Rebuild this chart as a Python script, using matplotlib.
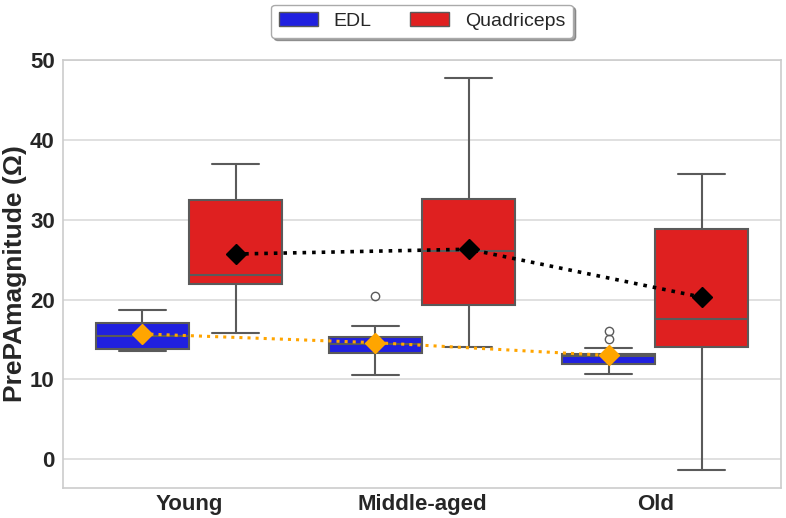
import matplotlib
matplotlib.use("Agg")
import matplotlib.pyplot as plt
import seaborn as sns
from matplotlib.patches import Patch

# ─── Data ────────────────────────────────────────────────────────────────────
groups = ["Young", "Middle-aged", "Old"]

edl_whislo = [13.6, 10.5, 10.7]
edl_q1 = [13.85, 13.3, 11.95]
edl_med = [15.4, 14.4, 12.9]
edl_q3 = [17.05, 15.3, 13.2]
edl_whishi = [18.7, 16.7, 13.9]
edl_fliers = [[], [20.4], [15.0, 16.1]]
edl_mean = [15.7, 14.6, 13.0]

quad_whislo = [15.8, 14.0, -1.35]
quad_q1 = [21.9, 19.3, 14.0]
quad_med = [23.1, 26.1, 17.55]
quad_q3 = [32.5, 32.6, 28.8]
quad_whishi = [37.0, 47.8, 35.7]
quad_fliers = [[], [], []]
quad_mean = [25.7, 26.3, 20.3]

EDL_COLOR = "#2020df"
QUAD_COLOR = "#df2020"
EDGE = "#5a5a5a"

sns.set_style("whitegrid")
plt.rcParams["font.family"] = ["Liberation Sans", "DejaVu Sans"]


def make_stats(lo, q1, med, q3, hi, fl):
    return [dict(whislo=a, q1=b, med=c, q3=d, whishi=e, fliers=f)
            for a, b, c, d, e, f in zip(lo, q1, med, q3, hi, fl)]


fig = plt.figure(figsize=(7.86, 5.18), dpi=100)
ax = fig.add_axes([0.0802, 0.0579, 0.9135, 0.8263])

x = list(range(len(groups)))
x_edl = [i - 0.2 for i in x]
x_quad = [i + 0.2 for i in x]

for stats, pos, color in [
    (make_stats(edl_whislo, edl_q1, edl_med, edl_q3, edl_whishi, edl_fliers), x_edl, EDL_COLOR),
    (make_stats(quad_whislo, quad_q1, quad_med, quad_q3, quad_whishi, quad_fliers), x_quad, QUAD_COLOR),
]:
    ax.bxp(stats, positions=pos, widths=0.4, capwidths=0.2, patch_artist=True,
           showfliers=True, manage_ticks=False,
           boxprops=dict(facecolor=color, edgecolor=EDGE, linewidth=1.5),
           medianprops=dict(color=EDGE, linewidth=1.5),
           whiskerprops=dict(color=EDGE, linewidth=1.5),
           capprops=dict(color=EDGE, linewidth=1.5),
           flierprops=dict(marker="o", markerfacecolor="none",
                           markeredgecolor=EDGE, markersize=6, markeredgewidth=1.0))

# mean trends
ax.plot(x_edl, edl_mean, linestyle=":", color="orange", linewidth=2.2, zorder=4)
ax.plot(x_edl, edl_mean, linestyle="none", marker="D", markersize=10.5,
        color="orange", zorder=5)
ax.plot(x_quad, quad_mean, linestyle=":", color="black", linewidth=2.6, zorder=4)
ax.plot(x_quad, quad_mean, linestyle="none", marker="D", markersize=10.5,
        color="black", zorder=5)

ax.set_xlim(-0.54, 2.54)
ax.set_ylim(-3.6, 50)
ax.set_xticks(x)
ax.set_xticklabels(groups)
ax.set_yticks([0, 10, 20, 30, 40, 50])
ax.tick_params(axis="both", labelsize=16, colors="#262626", length=0)
ax.tick_params(axis="x", pad=4)
ax.tick_params(axis="y", pad=6)
for lab in ax.get_xticklabels() + ax.get_yticklabels():
    lab.set_fontweight("bold")
ax.set_ylabel("PrePAmagnitude (Ω)", fontsize=19, fontweight="bold",
              color="#262626", labelpad=2)

ax.xaxis.grid(False)
ax.yaxis.grid(True, color="#dadada", linewidth=1.2)
ax.set_axisbelow(True)
for sp in ax.spines.values():
    sp.set_color("#cccccc")
    sp.set_linewidth(1.2)

handles = [Patch(facecolor=EDL_COLOR, edgecolor=EDGE, label="EDL"),
           Patch(facecolor=QUAD_COLOR, edgecolor=EDGE, label="Quadriceps")]
leg = ax.legend(handles=handles, loc="lower center", bbox_to_anchor=(0.5, 1.052),
                ncol=2, fontsize=14, frameon=True, shadow=True, fancybox=True,
                borderaxespad=0)
leg.get_frame().set_edgecolor("#aaaaaa")
leg.get_frame().set_facecolor("white")

fig.savefig("out.png", dpi=100)
